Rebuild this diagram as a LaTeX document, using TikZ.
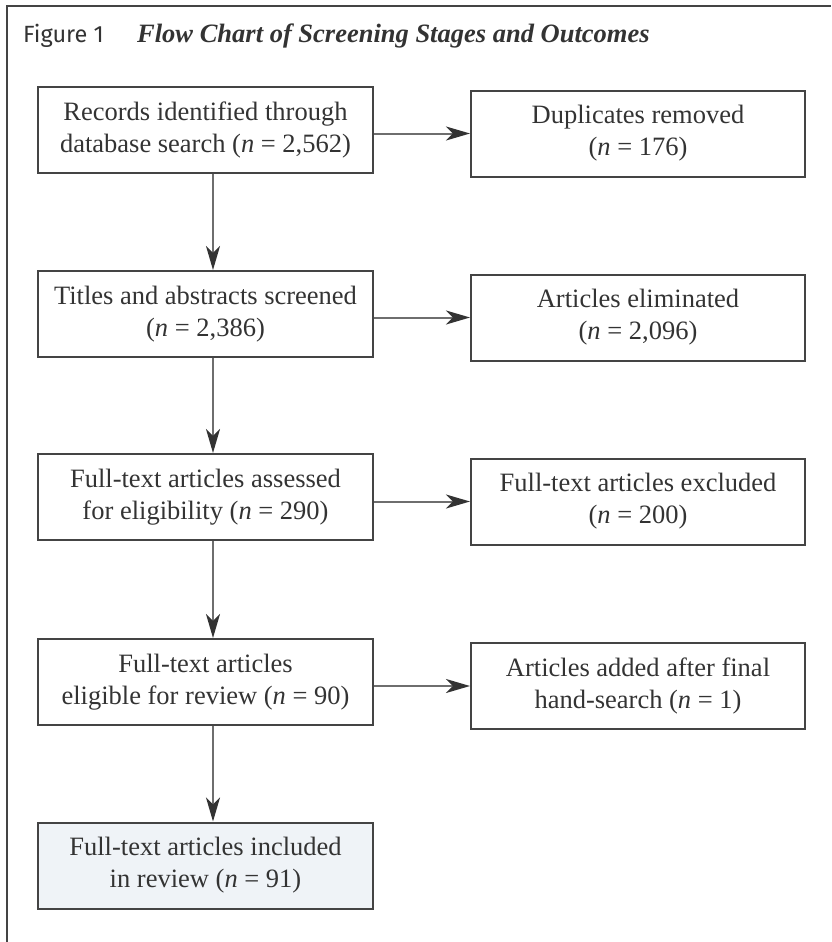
\documentclass[tikz,border=0pt]{standalone}
\usepackage{fontspec}
\setmainfont{Liberation Serif}
\newfontfamily\titlesans{Fira Sans}
\usetikzlibrary{arrows.meta}
\definecolor{txt}{HTML}{333333}
\definecolor{edge}{HTML}{444444}
\definecolor{lineg}{HTML}{6E6E6E}
\definecolor{headc}{HTML}{333333}
\definecolor{fillb}{HTML}{EFF3F7}
\tikzset{
  box/.style={draw=edge, line width=2pt, minimum height=86pt, inner sep=2pt,
    align=center, text=txt, font=\fontsize{26.5}{32}\selectfont},
  lbox/.style={box, minimum width=335pt},
  rbox/.style={box, minimum width=334pt},
  arr/.style={draw=lineg, line width=2pt,
    -{Stealth[length=24pt,width=14pt,inset=7pt,fill=headc,color=headc]}},
}
\begin{document}
\begin{tikzpicture}[x=1pt,y=-1pt]
\useasboundingbox (0,0) rectangle (831,942);
% frame
\draw[edge, line width=2pt] (6.5,942) -- (6.5,6) -- (831,6);
% title
\node[anchor=base west, inner sep=0pt, text=txt, font=\titlesans\fontsize{23.5}{28}\selectfont] (t1) at (23,43) {Figure 1};
\node[anchor=base west, inner sep=0pt, text=txt, font=\bfseries\itshape\fontsize{26.5}{30}\selectfont] (t2) at (137,43) {Flow Chart of Screening Stages and Outcomes};
% left column
\node[lbox] (b1) at (205.5,130) {Records identified through\\database search (\textit{n} = 2,562)};
\node[lbox] (b2) at (205.5,314) {Titles and abstracts screened\\(\textit{n} = 2,386)};
\node[lbox] (b3) at (205.5,497) {Full-text articles assessed\\for eligibility (\textit{n} = 290)};
\node[lbox] (b4) at (205.5,682) {Full-text articles\\eligible for review (\textit{n} = 90)};
\node[lbox, fill=fillb] (b5) at (205.5,865.5) {Full-text articles included\\in review (\textit{n} = 91)};
% right column
\node[rbox] (r1) at (638,133.5) {Duplicates removed\\(\textit{n} = 176)};
\node[rbox] (r2) at (638,317.5) {Articles eliminated\\(\textit{n} = 2,096)};
\node[rbox] (r3) at (638,501.5) {Full-text articles excluded\\(\textit{n} = 200)};
\node[rbox] (r4) at (638,686) {Articles added after final\\hand-search (\textit{n} = 1)};
% vertical arrows
\draw[arr] ([xshift=7.5pt]b1.south) -- ([xshift=7.5pt]b2.north);
\draw[arr] ([xshift=7.5pt]b2.south) -- ([xshift=7.5pt]b3.north);
\draw[arr] ([xshift=7.5pt]b3.south) -- ([xshift=7.5pt]b4.north);
\draw[arr] ([xshift=7.5pt]b4.south) -- ([xshift=7.5pt]b5.north);
% horizontal arrows
\draw[arr] (b1.east |- r1.west) -- (r1.west);
\draw[arr] (b2.east |- r2.west) -- (r2.west);
\draw[arr] (b3.east |- r3.west) -- (r3.west);
\draw[arr] (b4.east |- r4.west) -- (r4.west);
\end{tikzpicture}
\end{document}
